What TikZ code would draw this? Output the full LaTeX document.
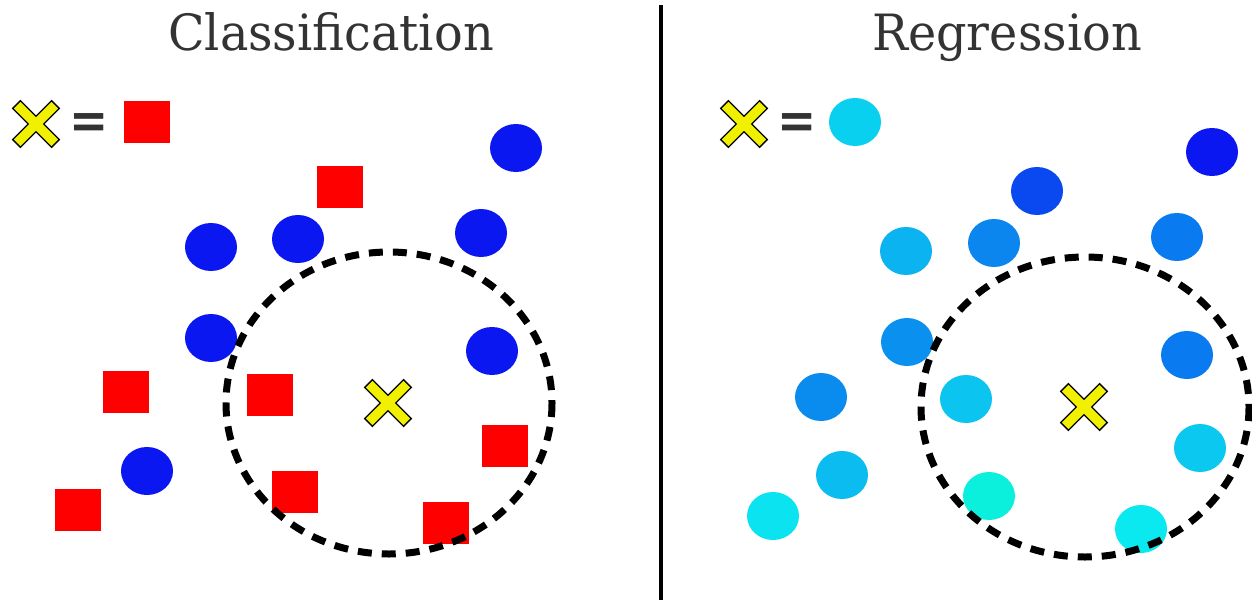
\documentclass[tikz,border=0pt]{standalone}
\usepackage{fontspec}
\setmainfont{DejaVu Serif}
\usepackage{tikz}
\definecolor{titlegray}{HTML}{333333}
\definecolor{xyellow}{HTML}{F0F000}
\definecolor{sqred}{HTML}{FF0000}
\definecolor{dotblue}{HTML}{0A17F0}
\definecolor{dotcyan}{HTML}{0AD0F0}
\tikzset{
	pics/crossmark/.style = {code = {
		\filldraw[fill = xyellow, draw = black, line width = 1.3pt, line join = miter, rotate = 45]
			(5.5, 5.5) -- (27.5, 5.5) -- (27.5, -5.5) -- (5.5, -5.5) -- (5.5, -27.5) -- (-5.5, -27.5)
			-- (-5.5, -5.5) -- (-27.5, -5.5) -- (-27.5, 5.5) -- (-5.5, 5.5) -- (-5.5, 27.5) -- (5.5, 27.5) -- cycle;
	}},
	heading/.style = {text = titlegray, font = \fontsize{50}{56}\selectfont, inner sep = 0pt, xscale = 0.955, anchor = base},
	eqsign/.style = {text = titlegray, font = \bfseries\fontsize{52}{56}\selectfont, inner sep = 0pt, xscale = 0.9},
	neighbourhood/.style = {line width = 7pt, dash pattern = on 14pt off 10pt}
}
\begin{document}
\begin{tikzpicture}[x = 1pt, y = -1pt]
	\useasboundingbox (0, 0) rectangle (1252, 602);
	\fill[white] (0, 0) rectangle (1252, 602);
	\draw[line width = 4.5pt] (661, 5) -- (661, 600);
	\node[heading] (cls) at (331, 51) {Classification};
	\node[heading] (reg) at (1007, 51) {Regression};
	% classification
	\pic at (36, 124) {crossmark};
	\node[eqsign] (eqcls) at (89, 126) {=};
	\fill[sqred] (124, 101) rectangle ++(46, 42);
	\foreach \x/\y in {340/187, 126/392, 270/395, 505/446, 295/492, 446/523, 78/510}
		\fill[sqred] (\x-23, \y-21) rectangle ++(46, 42);
	\foreach \x/\y in {516/148, 211/247, 298/239, 481/233, 211/338, 492/351, 147/471}
		\fill[dotblue] (\x, \y) ellipse [x radius = 26, y radius = 24];
	\draw[neighbourhood] (389, 403) ellipse [x radius = 163, y radius = 151];
	\pic at (388, 403) {crossmark};
	% regression
	\pic at (744, 124) {crossmark};
	\node[eqsign] (eqreg) at (797, 126) {=};
	\fill[dotcyan] (855, 122) ellipse [x radius = 26, y radius = 24];
	\foreach \x/\y/\c in {1212/152/0A17F0, 1037/191/0A48F0, 906/251/0BB4F0, 994/243/0A86EE,
			1177/237/0A7AF0, 907/342/0A90EE, 1187/355/0A7AF0, 821/397/0A8CEE, 966/399/0BC4F0,
			842/475/0BBCF0, 1200/448/0BC8F0, 773/516/0BE4F0, 989/496/0AF0DC, 1141/529/0AE8F0} {
		\definecolor{dotshade}{HTML}{\c}
		\fill[dotshade] (\x, \y) ellipse [x radius = 26, y radius = 24];
	}
	\draw[neighbourhood] (1085, 407) ellipse [x radius = 164, y radius = 150];
	\pic at (1084, 407) {crossmark};
\end{tikzpicture}
\end{document}
